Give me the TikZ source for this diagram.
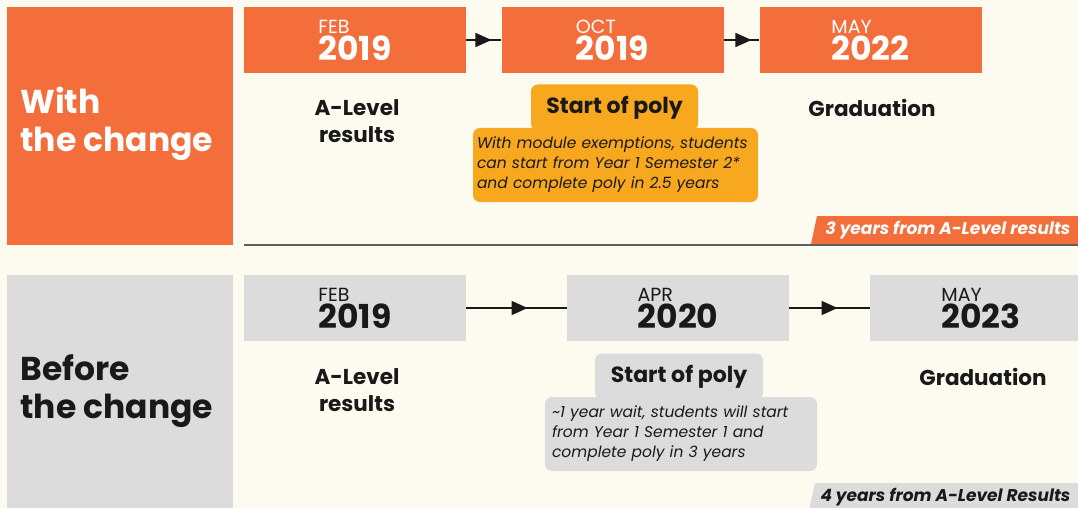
\documentclass[tikz,border=0pt]{standalone}
\usepackage{fontspec}
\setmainfont{Poppins}
\usetikzlibrary{arrows.meta,decorations.markings}

\definecolor{bgcream}{RGB}{253,251,240}
\definecolor{ochange}{RGB}{243,110,58}
\definecolor{ybox}{RGB}{247,168,30}
\definecolor{gbox}{RGB}{220,220,220}
\definecolor{ink}{RGB}{25,25,25}

\newcommand{\when}[2]{{\fontsize{19}{19}\selectfont #1}\\{\bfseries #2}}

\tikzset{
  datebox/.style={fill=#1, minimum width=222, minimum height=66, inner sep=0,
    align=left, font=\fontsize{33}{27}\selectfont},
  conn/.style={line width=1.5, draw=ink, postaction={decorate},
    decoration={markings, mark=at position #1 with {\arrow{Triangle[length=16pt,width=14pt]}}}},
  phase/.style={align=left, anchor=west, font=\bfseries\fontsize{33}{38}\selectfont},
  event/.style={align=center, text=ink, font=\bfseries\fontsize{21.5}{27}\selectfont},
  tabbox/.style={fill=#1, rounded corners=7, minimum height=46, inner sep=0,
    text=ink, font=\bfseries\fontsize{22}{22}\selectfont},
  notebox/.style={fill=#1, rounded corners=7, minimum height=74, inner xsep=4,
    align=left, text=ink, font=\itshape\fontsize{15.5}{20}\selectfont},
  tagtext/.style={anchor=east, font=\bfseries\itshape\fontsize{17}{18}\selectfont}
}

\begin{document}
\begin{tikzpicture}[x=1pt,y=-1pt]
  \useasboundingbox (0,0) rectangle (1078,508);
  \fill[bgcream] (0,0) rectangle (1078,508);

  % with the change
  \fill[ochange] (7,7) rectangle (233,245);
  \node[phase, text=white] (withhead) at (17,124) {With\\the change};
  \foreach \x/\m/\y/\n in {355/FEB/2019/w1, 612.5/OCT/2019/w2, 870.5/MAY/2022/w3} {
    \node[datebox=ochange, text=white] (\n) at (\x,40) {\when{\m}{\y}};
  }
  \draw[conn=0.72] (w1) -- (w2);
  \draw[conn=0.78] (w2) -- (w3);
  \node[event] (wres) at (357,121) {A-Level\\results};
  \node[tabbox=ybox, minimum width=167] (wtab) at (614.5,107.5) {Start of poly};
  \node[notebox=ybox, text width=277] (wnote) at (615.5,165)
    {With module exemptions, students\\can start from Year 1 Semester 2*\\and complete poly in 2.5 years};
  \node[event] (wgrad) at (872,108) {Graduation};
  \fill[ochange] (811,244) -- (817,216) -- (1078,216) -- (1078,244) -- cycle;
  \node[tagtext, text=white] (wtag) at (1074,230) {3 years from A-Level results};
  \draw[line width=1.5, ink!70] (244,245) -- (1078,245);

  % before the change
  \fill[gbox] (7,275) rectangle (233,508);
  \node[phase, text=ink] (beforehead) at (17,391) {Before\\the change};
  \foreach \x/\m/\y/\n in {355/FEB/2019/b1, 678/APR/2020/b2, 981/MAY/2023/b3} {
    \node[datebox=gbox, text=ink] (\n) at (\x,308) {\when{\m}{\y}};
  }
  \draw[conn=0.61] (b1) -- (b2);
  \draw[conn=0.6] (b2) -- (b3);
  \node[event] (bres) at (357,390) {A-Level\\results};
  \node[tabbox=gbox, minimum width=168] (btab) at (679,376.5) {Start of poly};
  \node[notebox=gbox, inner xsep=7, text width=258] (bnote) at (681,434)
    {\textasciitilde 1 year wait, students will start\\from Year 1 Semester 1 and\\complete poly in 3 years};
  \node[event] (bgrad) at (983,377) {Graduation};
  \fill[gbox] (809,510) -- (815,483) -- (1078,483) -- (1078,510) -- cycle;
  \node[tagtext, text=ink] (btag) at (1074,497) {4 years from A-Level Results};
\end{tikzpicture}
\end{document}
